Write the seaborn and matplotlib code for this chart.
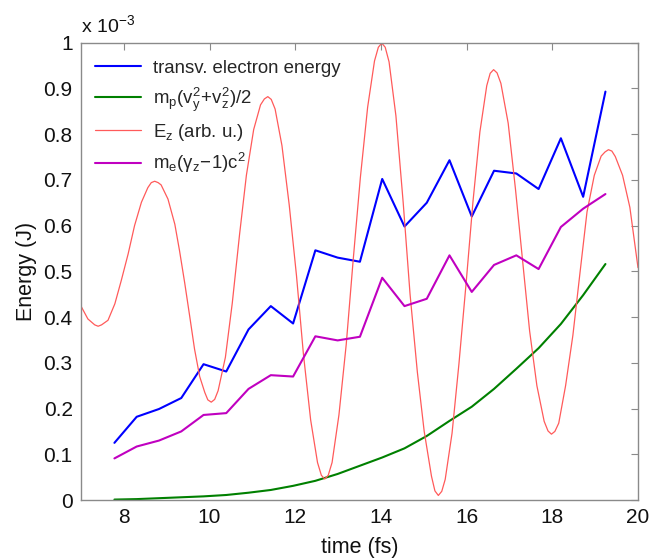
import numpy as np
import pandas as pd
import matplotlib
matplotlib.use("Agg")
import matplotlib.pyplot as plt
import seaborn as sns

# ---- data (energies in units of 1e-3 J) ----
time_fs = [7.78, 8.30, 8.82, 9.34, 9.86, 10.39, 10.91, 11.43, 11.95, 12.47, 12.99,
           13.51, 14.03, 14.55, 15.07, 15.60, 16.12, 16.64, 17.16, 17.68, 18.20,
           18.72, 19.24]
transv_energy = [0.125, 0.182, 0.199, 0.223, 0.297, 0.281, 0.373, 0.424, 0.386, 0.546,
                 0.530, 0.521, 0.702, 0.598, 0.650, 0.743, 0.620, 0.720, 0.714, 0.680,
                 0.791, 0.663, 0.893]
proton_energy = [0.001, 0.002, 0.004, 0.006, 0.008, 0.011, 0.016, 0.022, 0.031, 0.042,
                 0.057, 0.075, 0.093, 0.113, 0.140, 0.173, 0.204, 0.243, 0.287, 0.332,
                 0.385, 0.448, 0.516]
electron_long = [0.091, 0.117, 0.130, 0.150, 0.186, 0.190, 0.243, 0.273, 0.270, 0.358,
                 0.349, 0.357, 0.486, 0.424, 0.440, 0.535, 0.455, 0.514, 0.535, 0.505,
                 0.597, 0.637, 0.669]

ez_time = [7.00, 7.16, 7.32, 7.40, 7.48, 7.63, 7.79, 7.94, 8.10, 8.25, 8.41, 8.56,
           8.64, 8.72, 8.80, 8.87, 9.03, 9.19, 9.30, 9.42, 9.54, 9.65, 9.77, 9.89,
           9.96, 10.04, 10.12, 10.20, 10.37, 10.53, 10.70, 10.86, 11.03, 11.19,
           11.28, 11.36, 11.44, 11.53, 11.69, 11.86, 12.03, 12.19, 12.36, 12.52,
           12.61, 12.69, 12.77, 12.86, 13.02, 13.19, 13.35, 13.52, 13.69, 13.85,
           13.94, 14.02, 14.10, 14.19, 14.35, 14.52, 14.68, 14.85, 15.01, 15.18,
           15.26, 15.34, 15.42, 15.50, 15.66, 15.82, 15.99, 16.15, 16.31, 16.47,
           16.55, 16.63, 16.71, 16.80, 16.97, 17.14, 17.31, 17.47, 17.64, 17.81,
           17.90, 17.98, 18.06, 18.15, 18.31, 18.48, 18.65, 18.81, 18.98, 19.14,
           19.23, 19.31, 19.39, 19.47, 19.64, 19.81, 20.00]
ez_field = [0.424, 0.396, 0.383, 0.380, 0.383, 0.393, 0.429, 0.480, 0.538, 0.600,
            0.651, 0.683, 0.694, 0.697, 0.694, 0.689, 0.658, 0.603, 0.545, 0.475,
            0.400, 0.330, 0.270, 0.235, 0.219, 0.214, 0.220, 0.239, 0.312, 0.430,
            0.580, 0.710, 0.810, 0.864, 0.877, 0.882, 0.876, 0.855, 0.775, 0.645,
            0.490, 0.320, 0.175, 0.082, 0.054, 0.046, 0.054, 0.082, 0.186, 0.340,
            0.522, 0.705, 0.859, 0.960, 0.990, 0.999, 0.990, 0.958, 0.840, 0.650,
            0.450, 0.280, 0.150, 0.052, 0.020, 0.010, 0.019, 0.045, 0.146, 0.297,
            0.476, 0.654, 0.805, 0.906, 0.933, 0.941, 0.934, 0.911, 0.824, 0.680,
            0.520, 0.370, 0.250, 0.172, 0.151, 0.144, 0.150, 0.168, 0.250, 0.360,
            0.500, 0.630, 0.710, 0.752, 0.761, 0.766, 0.763, 0.751, 0.710, 0.640,
            0.508]

labels = ["transv. electron energy",
          r"$\mathregular{m_p(v_y^2\!+\!v_z^2)/2}$",
          r"$\mathregular{E_z}$ (arb. u.)",
          r"$\mathregular{m_e(\gamma_z\!-\!1)c^2}$"]
colors = ["#0000ff", "#008000", "#ff5a5a", "#c000c0"]
widths = [1.5, 1.5, 0.9, 1.5]

x_ticks = [8, 10, 12, 14, 16, 18, 20]
y_ticks = [0, 0.1, 0.2, 0.3, 0.4, 0.5, 0.6, 0.7, 0.8, 0.9, 1.0]

# ---- style ----
sns.set_theme(style="white")
plt.rcParams["font.family"] = ["Liberation Sans", "DejaVu Sans"]
plt.rcParams["mathtext.fontset"] = "custom"
plt.rcParams["mathtext.rm"] = "Liberation Sans"
plt.rcParams["mathtext.it"] = "Liberation Sans:italic"

fig = plt.figure(figsize=(6.65, 5.6), dpi=100)
ax = fig.add_axes([0.1218, 0.1071, 0.8376, 0.8167])

series = [
    (time_fs, transv_energy),
    (time_fs, proton_energy),
    (ez_time, ez_field),
    (time_fs, electron_long),
]
for (xs, ys), lab, col, lw in zip(series, labels, colors, widths):
    df = pd.DataFrame({"t": xs, "E": ys})
    sns.lineplot(data=df, x="t", y="E", ax=ax, color=col, linewidth=lw,
                 label=lab, estimator=None, sort=False,
                 solid_joinstyle="round", solid_capstyle="round")

ax.set_xlim(7, 20)
ax.set_ylim(0, 1.0)
ax.set_xticks(x_ticks)
ax.set_yticks(y_ticks)
ax.set_xticklabels([f"{v:g}" for v in x_ticks])
ax.set_yticklabels([f"{v:g}" for v in y_ticks])

for sp in ax.spines.values():
    sp.set_visible(True)
    sp.set_color("#8a8a8a")
    sp.set_linewidth(1.0)
ax.tick_params(direction="in", length=5, width=0.8, color="#8a8a8a",
               top=True, right=True, labelsize=15, labelcolor="#111111", pad=6)

ax.set_xlabel("time (fs)", fontsize=15.5, color="#111111", labelpad=7)
ax.set_ylabel("Energy (J)", fontsize=15.5, color="#111111")
ax.yaxis.set_label_coords(-0.079, 0.5)

ax.text(0.0, 1.015, r"x 10$^{\mathregular{-3}}$", transform=ax.transAxes,
        fontsize=14, color="#111111", ha="left", va="bottom")

leg = ax.legend(loc="upper left", frameon=False, fontsize=13.4, handlelength=2.5,
                handletextpad=0.6, labelspacing=0.45, borderaxespad=0.35,
                bbox_to_anchor=(0.0, 0.993))

fig.savefig("out.png", dpi=100, facecolor="white")
